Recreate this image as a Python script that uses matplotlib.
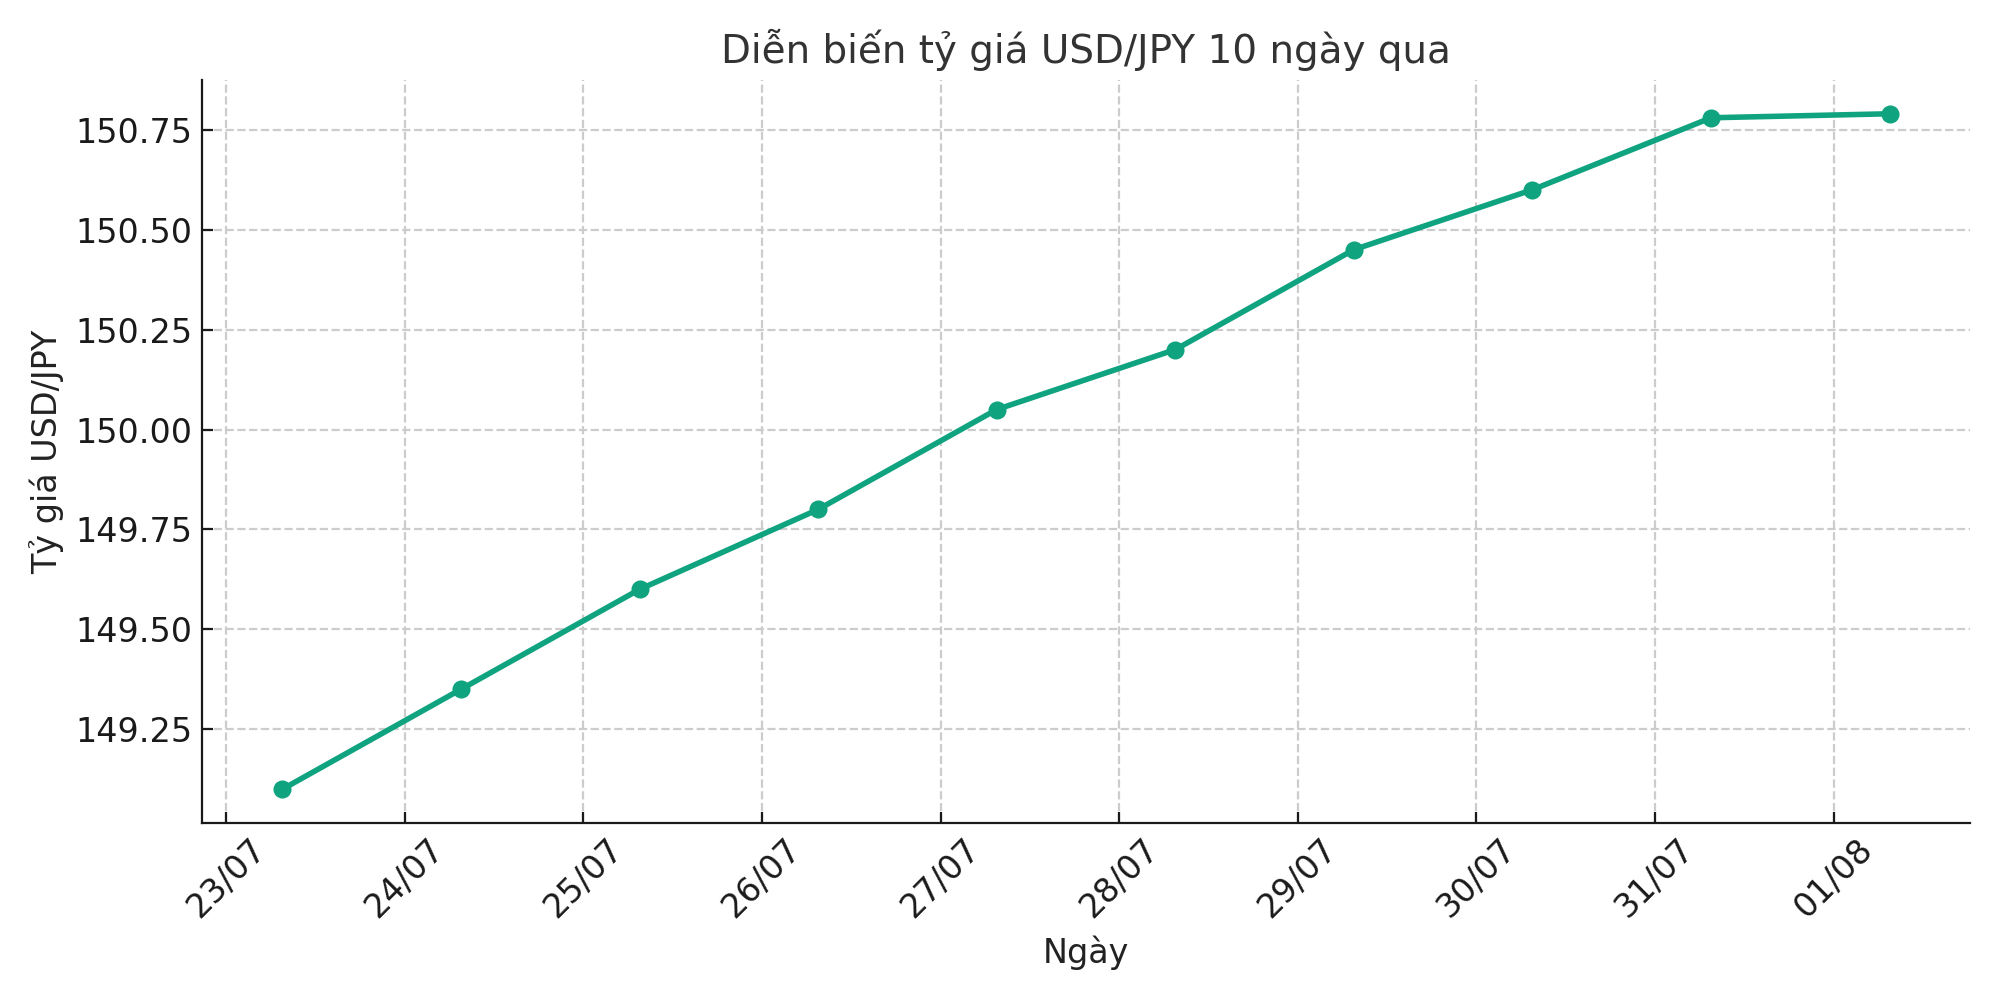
import datetime as dt

import matplotlib
matplotlib.use("Agg")
import matplotlib.pyplot as plt
import matplotlib.dates as mdates

# 10 days of USD/JPY, one reading per day (same morning time each day)
start = dt.datetime(2025, 7, 23, 7, 32)
dates = [start + dt.timedelta(days=i) for i in range(10)]
rates = [149.10, 149.35, 149.60, 149.80, 150.05, 150.20, 150.45, 150.60, 150.78, 150.79]

TITLE = "Diễn biến tỷ giá USD/JPY 10 ngày qua"
XLABEL = "Ngày"
YLABEL = "Tỷ giá USD/JPY"
GREEN = "#10a37f"

plt.rcParams["font.family"] = ["DejaVu Sans"]

fig, ax = plt.subplots(figsize=(10, 5), dpi=200)
fig.subplots_adjust(left=0.101, right=0.985, top=0.92, bottom=0.177)

ax.plot(dates, rates, color=GREEN, lw=2, marker="o", ms=5.5)

ax.set_title(TITLE, fontsize=14, color="#333333")
ax.set_xlabel(XLABEL, fontsize=12, color="#222222")
ax.set_ylabel(YLABEL, fontsize=12, color="#222222")

ax.xaxis.set_major_locator(mdates.DayLocator())
ax.xaxis.set_major_formatter(mdates.DateFormatter("%d/%m"))
ax.set_yticks([149.25, 149.50, 149.75, 150.00, 150.25, 150.50, 150.75])
ax.yaxis.set_major_formatter(matplotlib.ticker.FormatStrFormatter("%.2f"))
plt.setp(ax.get_xticklabels(), rotation=45)

ax.tick_params(direction="in", labelsize=12, colors="#1a1a1a", length=4)
ax.grid(True, ls="--", color="#cccccc", lw=0.8)
for s in ("top", "right"):
    ax.spines[s].set_visible(False)
for s in ("left", "bottom"):
    ax.spines[s].set_color("#1a1a1a")

fig.savefig("out.png")
